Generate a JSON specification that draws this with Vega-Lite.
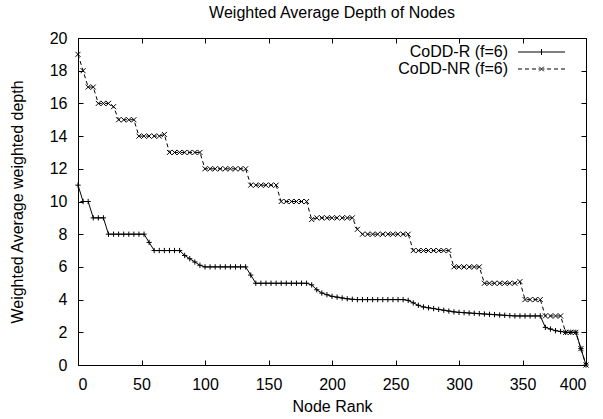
{
  "$schema": "https://vega.github.io/schema/vega-lite/v6.json",
  "width": 508,
  "height": 327,
  "autosize": {"type": "none"},
  "padding": {"left": 78, "top": 38, "right": 17, "bottom": 54},
  "title": {"text": "Weighted Average Depth of Nodes", "fontSize": 16, "fontWeight": "normal", "font": "Liberation Sans", "color": "black", "offset": 9},
  "data": {"values": [
    {"rank":0,"CoDD-R (f=6)":11,"CoDD-NR (f=6)":19},
    {"rank":4,"CoDD-R (f=6)":10,"CoDD-NR (f=6)":18},
    {"rank":8,"CoDD-R (f=6)":10,"CoDD-NR (f=6)":17},
    {"rank":12,"CoDD-R (f=6)":9,"CoDD-NR (f=6)":17},
    {"rank":16,"CoDD-R (f=6)":9,"CoDD-NR (f=6)":16},
    {"rank":20,"CoDD-R (f=6)":9,"CoDD-NR (f=6)":16},
    {"rank":24,"CoDD-R (f=6)":8,"CoDD-NR (f=6)":16},
    {"rank":28,"CoDD-R (f=6)":8,"CoDD-NR (f=6)":15.8},
    {"rank":32,"CoDD-R (f=6)":8,"CoDD-NR (f=6)":15},
    {"rank":36,"CoDD-R (f=6)":8,"CoDD-NR (f=6)":15},
    {"rank":40,"CoDD-R (f=6)":8,"CoDD-NR (f=6)":15},
    {"rank":44,"CoDD-R (f=6)":8,"CoDD-NR (f=6)":15},
    {"rank":48,"CoDD-R (f=6)":8,"CoDD-NR (f=6)":14},
    {"rank":52,"CoDD-R (f=6)":8,"CoDD-NR (f=6)":14},
    {"rank":56,"CoDD-R (f=6)":7.5,"CoDD-NR (f=6)":14},
    {"rank":60,"CoDD-R (f=6)":7,"CoDD-NR (f=6)":14},
    {"rank":64,"CoDD-R (f=6)":7,"CoDD-NR (f=6)":14},
    {"rank":68,"CoDD-R (f=6)":7,"CoDD-NR (f=6)":14.1},
    {"rank":72,"CoDD-R (f=6)":7,"CoDD-NR (f=6)":13},
    {"rank":76,"CoDD-R (f=6)":7,"CoDD-NR (f=6)":13},
    {"rank":80,"CoDD-R (f=6)":7,"CoDD-NR (f=6)":13},
    {"rank":84,"CoDD-R (f=6)":6.7,"CoDD-NR (f=6)":13},
    {"rank":88,"CoDD-R (f=6)":6.5,"CoDD-NR (f=6)":13},
    {"rank":92,"CoDD-R (f=6)":6.3,"CoDD-NR (f=6)":13},
    {"rank":96,"CoDD-R (f=6)":6.1,"CoDD-NR (f=6)":13},
    {"rank":100,"CoDD-R (f=6)":6,"CoDD-NR (f=6)":12},
    {"rank":104,"CoDD-R (f=6)":6,"CoDD-NR (f=6)":12},
    {"rank":108,"CoDD-R (f=6)":6,"CoDD-NR (f=6)":12},
    {"rank":112,"CoDD-R (f=6)":6,"CoDD-NR (f=6)":12},
    {"rank":116,"CoDD-R (f=6)":6,"CoDD-NR (f=6)":12},
    {"rank":120,"CoDD-R (f=6)":6,"CoDD-NR (f=6)":12},
    {"rank":124,"CoDD-R (f=6)":6,"CoDD-NR (f=6)":12},
    {"rank":128,"CoDD-R (f=6)":6,"CoDD-NR (f=6)":12},
    {"rank":132,"CoDD-R (f=6)":6,"CoDD-NR (f=6)":12},
    {"rank":136,"CoDD-R (f=6)":5.5,"CoDD-NR (f=6)":11},
    {"rank":140,"CoDD-R (f=6)":5,"CoDD-NR (f=6)":11},
    {"rank":144,"CoDD-R (f=6)":5,"CoDD-NR (f=6)":11},
    {"rank":148,"CoDD-R (f=6)":5,"CoDD-NR (f=6)":11},
    {"rank":152,"CoDD-R (f=6)":5,"CoDD-NR (f=6)":11},
    {"rank":156,"CoDD-R (f=6)":5,"CoDD-NR (f=6)":11},
    {"rank":160,"CoDD-R (f=6)":5,"CoDD-NR (f=6)":10},
    {"rank":164,"CoDD-R (f=6)":5,"CoDD-NR (f=6)":10},
    {"rank":168,"CoDD-R (f=6)":5,"CoDD-NR (f=6)":10},
    {"rank":172,"CoDD-R (f=6)":5,"CoDD-NR (f=6)":10},
    {"rank":176,"CoDD-R (f=6)":5,"CoDD-NR (f=6)":10},
    {"rank":180,"CoDD-R (f=6)":5,"CoDD-NR (f=6)":10},
    {"rank":184,"CoDD-R (f=6)":4.9,"CoDD-NR (f=6)":8.9},
    {"rank":188,"CoDD-R (f=6)":4.6,"CoDD-NR (f=6)":9},
    {"rank":192,"CoDD-R (f=6)":4.4,"CoDD-NR (f=6)":9},
    {"rank":196,"CoDD-R (f=6)":4.3,"CoDD-NR (f=6)":9},
    {"rank":200,"CoDD-R (f=6)":4.2,"CoDD-NR (f=6)":9},
    {"rank":204,"CoDD-R (f=6)":4.15,"CoDD-NR (f=6)":9},
    {"rank":208,"CoDD-R (f=6)":4.1,"CoDD-NR (f=6)":9},
    {"rank":212,"CoDD-R (f=6)":4.05,"CoDD-NR (f=6)":9},
    {"rank":216,"CoDD-R (f=6)":4.02,"CoDD-NR (f=6)":9},
    {"rank":220,"CoDD-R (f=6)":4,"CoDD-NR (f=6)":8.3},
    {"rank":224,"CoDD-R (f=6)":4,"CoDD-NR (f=6)":8},
    {"rank":228,"CoDD-R (f=6)":4,"CoDD-NR (f=6)":8},
    {"rank":232,"CoDD-R (f=6)":4,"CoDD-NR (f=6)":8},
    {"rank":236,"CoDD-R (f=6)":4,"CoDD-NR (f=6)":8},
    {"rank":240,"CoDD-R (f=6)":4,"CoDD-NR (f=6)":8},
    {"rank":244,"CoDD-R (f=6)":4,"CoDD-NR (f=6)":8},
    {"rank":248,"CoDD-R (f=6)":4,"CoDD-NR (f=6)":8},
    {"rank":252,"CoDD-R (f=6)":4,"CoDD-NR (f=6)":8},
    {"rank":256,"CoDD-R (f=6)":4,"CoDD-NR (f=6)":8},
    {"rank":260,"CoDD-R (f=6)":3.95,"CoDD-NR (f=6)":8},
    {"rank":264,"CoDD-R (f=6)":3.8,"CoDD-NR (f=6)":7},
    {"rank":268,"CoDD-R (f=6)":3.65,"CoDD-NR (f=6)":7},
    {"rank":272,"CoDD-R (f=6)":3.55,"CoDD-NR (f=6)":7},
    {"rank":276,"CoDD-R (f=6)":3.5,"CoDD-NR (f=6)":7},
    {"rank":280,"CoDD-R (f=6)":3.45,"CoDD-NR (f=6)":7},
    {"rank":284,"CoDD-R (f=6)":3.4,"CoDD-NR (f=6)":7},
    {"rank":288,"CoDD-R (f=6)":3.35,"CoDD-NR (f=6)":7},
    {"rank":292,"CoDD-R (f=6)":3.3,"CoDD-NR (f=6)":7},
    {"rank":296,"CoDD-R (f=6)":3.25,"CoDD-NR (f=6)":6},
    {"rank":300,"CoDD-R (f=6)":3.22,"CoDD-NR (f=6)":6},
    {"rank":304,"CoDD-R (f=6)":3.2,"CoDD-NR (f=6)":6},
    {"rank":308,"CoDD-R (f=6)":3.18,"CoDD-NR (f=6)":6},
    {"rank":312,"CoDD-R (f=6)":3.16,"CoDD-NR (f=6)":6},
    {"rank":316,"CoDD-R (f=6)":3.14,"CoDD-NR (f=6)":6},
    {"rank":320,"CoDD-R (f=6)":3.12,"CoDD-NR (f=6)":5},
    {"rank":324,"CoDD-R (f=6)":3.1,"CoDD-NR (f=6)":5},
    {"rank":328,"CoDD-R (f=6)":3.08,"CoDD-NR (f=6)":5},
    {"rank":332,"CoDD-R (f=6)":3.06,"CoDD-NR (f=6)":5},
    {"rank":336,"CoDD-R (f=6)":3.04,"CoDD-NR (f=6)":5},
    {"rank":340,"CoDD-R (f=6)":3.02,"CoDD-NR (f=6)":5},
    {"rank":344,"CoDD-R (f=6)":3,"CoDD-NR (f=6)":5},
    {"rank":348,"CoDD-R (f=6)":3,"CoDD-NR (f=6)":5.1},
    {"rank":352,"CoDD-R (f=6)":3,"CoDD-NR (f=6)":4},
    {"rank":356,"CoDD-R (f=6)":3,"CoDD-NR (f=6)":4},
    {"rank":360,"CoDD-R (f=6)":3,"CoDD-NR (f=6)":4},
    {"rank":364,"CoDD-R (f=6)":3,"CoDD-NR (f=6)":4},
    {"rank":368,"CoDD-R (f=6)":2.3,"CoDD-NR (f=6)":3},
    {"rank":372,"CoDD-R (f=6)":2.2,"CoDD-NR (f=6)":3},
    {"rank":376,"CoDD-R (f=6)":2.1,"CoDD-NR (f=6)":3},
    {"rank":380,"CoDD-R (f=6)":2.05,"CoDD-NR (f=6)":3},
    {"rank":384,"CoDD-R (f=6)":2,"CoDD-NR (f=6)":2},
    {"rank":388,"CoDD-R (f=6)":2,"CoDD-NR (f=6)":2},
    {"rank":392,"CoDD-R (f=6)":2,"CoDD-NR (f=6)":2},
    {"rank":396,"CoDD-R (f=6)":1,"CoDD-NR (f=6)":1},
    {"rank":400,"CoDD-R (f=6)":0,"CoDD-NR (f=6)":0}
  ]},
  "transform": [{"fold": ["CoDD-R (f=6)", "CoDD-NR (f=6)"], "as": ["series", "depth"]}],
  "layer": [
    {
      "transform": [{"filter": {"field": "series", "equal": "CoDD-R (f=6)"}}],
      "mark": {"type": "line", "color": "black", "strokeWidth": 1},
      "encoding": {
        "x": {"field": "rank", "type": "quantitative", "scale": {"domain": [0, 400], "nice": false}, "axis": {"orient": "bottom", "values": [0,50,100,150,200,250,300,350,400], "title": "Node Rank", "labelPadding": 16, "titlePadding": 6}},
        "y": {"field": "depth", "type": "quantitative", "scale": {"domain": [0, 20], "nice": false}, "axis": {"orient": "left", "values": [0,2,4,6,8,10,12,14,16,18,20], "title": "Weighted Average weighted depth", "labelPadding": 16, "titlePadding": 24}}
      }
    },
    {
      "transform": [{"filter": {"field": "series", "equal": "CoDD-NR (f=6)"}}],
      "mark": {"type": "line", "color": "black", "strokeWidth": 1, "strokeDash": [4, 3]},
      "encoding": {
        "x": {"field": "rank", "type": "quantitative", "axis": null},
        "y": {"field": "depth", "type": "quantitative", "axis": null}
      }
    },
    {
      "transform": [{"filter": {"field": "series", "equal": "CoDD-R (f=6)"}}],
      "mark": {"type": "point", "filled": false, "stroke": "black", "strokeWidth": 1, "size": 28, "opacity": 1, "shape": "M-1,0L1,0M0,-1L0,1"},
      "encoding": {
        "x": {"field": "rank", "type": "quantitative", "axis": null},
        "y": {"field": "depth", "type": "quantitative", "axis": null}
      }
    },
    {
      "transform": [{"filter": {"field": "series", "equal": "CoDD-NR (f=6)"}}],
      "mark": {"type": "point", "filled": false, "stroke": "black", "strokeWidth": 1, "size": 25, "opacity": 1, "shape": "M-1,-1L1,1M-1,1L1,-1"},
      "encoding": {
        "x": {"field": "rank", "type": "quantitative", "axis": {"orient": "top", "values": [0,50,100,150,200,250,300,350,400], "labels": false, "title": null}},
        "y": {"field": "depth", "type": "quantitative", "axis": {"orient": "right", "values": [0,2,4,6,8,10,12,14,16,18,20], "labels": false, "title": null}}
      }
    },
    {
      "transform": [{"filter": {"field": "rank", "lt": 0}}],
      "mark": {"type": "point", "filled": false, "stroke": "black", "strokeWidth": 1, "opacity": 1},
      "encoding": {
        "x": {"field": "rank", "type": "quantitative", "axis": null},
        "y": {"field": "depth", "type": "quantitative", "axis": null},
        "shape": {
          "field": "series", "type": "nominal",
          "scale": {"domain": ["CoDD-R (f=6)", "CoDD-NR (f=6)"], "range": [
            "M-4.7,0L4.7,0M0,-0.6L0,0.6",
            "M-4.7,0L-3.9,0M-3.3,0L-2.5,0M-1.9,0L-1.1,0M-0.6,0L-0.3,0M0.3,0L0.6,0M1.1,0L1.9,0M2.5,0L3.3,0M3.9,0L4.7,0M-0.45,-0.45L0.45,0.45M-0.45,0.45L0.45,-0.45"
          ]},
          "legend": {
            "title": null, "orient": "none", "legendX": 455.5, "legendY": 6, "padding": 0, "rowPadding": 1,
            "symbolSize": 100, "symbolStrokeColor": "black", "symbolStrokeWidth": 1, "symbolFillColor": "transparent", "symbolOpacity": 1,
            "labelAlign": "right", "labelOffset": -41.5, "labelFontSize": 16, "labelColor": "black", "labelLimit": 400, "labelFont": "Liberation Sans"
          }
        }
      }
    }
  ],
  "resolve": {"axis": {"x": "independent", "y": "independent"}},
  "config": {
    "font": "Liberation Sans",
    "view": {"stroke": "black", "strokeWidth": 1},
    "axis": {"grid": false, "domain": false, "tickColor": "black", "tickSize": -5, "labelColor": "black", "labelFontSize": 16, "titleFontSize": 16, "titleFontWeight": "normal", "titleColor": "black", "labelFont": "Liberation Sans", "titleFont": "Liberation Sans"}
  }
}
